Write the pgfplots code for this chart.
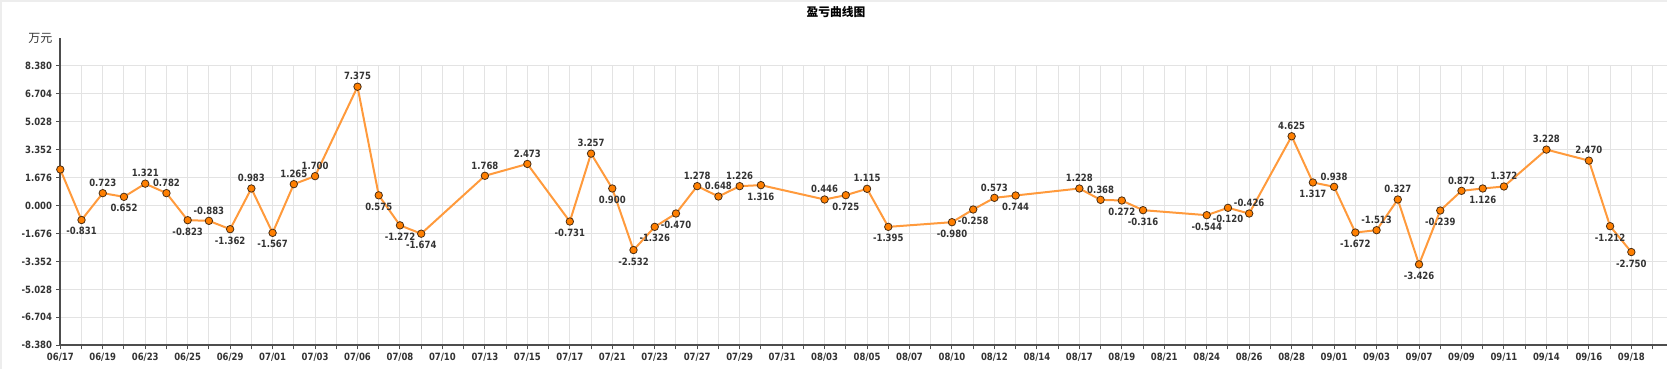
\documentclass[border=0pt]{standalone}
\usepackage{pgfplots}
\pgfplotsset{compat=1.18}
\usepackage{pgfplotstable}
\usepackage{fontspec}
\setmainfont{Noto Sans}
\newfontfamily\numfont{DejaVu Sans}[FakeStretch=0.85]
\newfontfamily\cjk{Noto Sans CJK SC}
\definecolor{lineor}{HTML}{FF9A3C}
\definecolor{markor}{HTML}{FF7F00}
\definecolor{markdr}{HTML}{4A2E14}
\definecolor{gridc}{HTML}{E3E3E3}
\definecolor{axc}{HTML}{4D4D4D}
\definecolor{txt}{HTML}{333333}
\definecolor{edge}{HTML}{EDEDED}

\pgfplotstableread{
x y
0 2.16
1 -0.87
2 0.74
3 0.52
4 1.31
5 0.74
6 -0.88
7 -0.92
8 -1.42
9 1.02
10 -1.64
11 1.28
12 1.76
14 7.12
15 0.61
16 -1.19
17 -1.69
20 1.78
22 2.49
24 -0.96
25 3.11
26 1.02
27 -2.67
28 -1.28
29 -0.48
30 1.16
31 0.54
32 1.16
33 1.22
36 0.36
37 0.62
38 1.00
39 -1.28
42 -1.00
43 -0.24
44 0.46
45 0.60
48 1.02
49 0.34
50 0.30
51 -0.28
54 -0.58
55 -0.14
56 -0.48
58 4.15
59 1.38
60 1.12
61 -1.62
62 -1.48
63 0.36
64 -3.53
65 -0.30
66 0.88
67 1.02
68 1.14
70 3.35
72 2.69
73 -1.24
74 -2.79
}\maindata

\pgfplotstableread{
x y lab
2 0.74 0.723
4 1.31 1.321
5 0.74 0.782
7 -0.92 -0.883
9 1.02 0.983
11 1.28 1.265
12 1.76 1.700
14 7.12 7.375
20 1.78 1.768
22 2.49 2.473
25 3.11 3.257
30 1.16 1.278
31 0.54 0.648
32 1.16 1.226
36 0.36 0.446
38 1.00 1.115
44 0.46 0.573
48 1.02 1.228
49 0.34 0.368
56 -0.48 -0.426
58 4.15 4.625
60 1.12 0.938
62 -1.48 -1.513
63 0.36 0.327
66 0.88 0.872
68 1.14 1.372
70 3.35 3.228
72 2.69 2.470
}\abovedata

\pgfplotstableread{
x y lab
1 -0.87 -0.831
3 0.52 0.652
6 -0.88 -0.823
8 -1.42 -1.362
10 -1.64 -1.567
15 0.61 0.575
16 -1.19 -1.272
17 -1.69 -1.674
24 -0.96 -0.731
26 1.02 0.900
27 -2.67 -2.532
28 -1.28 -1.326
29 -0.48 -0.470
33 1.22 1.316
37 0.62 0.725
39 -1.28 -1.395
42 -1.00 -0.980
43 -0.24 -0.258
45 0.60 0.744
50 0.30 0.272
51 -0.28 -0.316
54 -0.58 -0.544
55 -0.14 -0.120
59 1.38 1.317
61 -1.62 -1.672
64 -3.53 -3.426
65 -0.30 -0.239
67 1.02 1.126
73 -1.24 -1.212
74 -2.79 -2.750
}\belowdata

\begin{document}
\begin{tikzpicture}
\begin{axis}[
  at={(0,0)}, anchor=south west,
  scale only axis,
  width=1205.025pt, height=209.7pt,
  xmin=0, xmax=75.68,
  ymin=-8.38, ymax=8.38,
  enlargelimits=false,
  clip=false,
  axis x line=bottom, axis y line=left,
  axis line style={axc, line width=1.5pt, -},
  xtick={0,2,...,74},
  minor xtick={1,3,...,75},
  xticklabels={06/17,06/19,06/23,06/25,06/29,07/01,07/03,07/06,07/08,07/10,07/13,07/15,07/17,07/21,07/23,07/27,07/29,07/31,08/03,08/05,08/07,08/10,08/12,08/14,08/17,08/19,08/21,08/24,08/26,08/28,09/01,09/03,09/07,09/09,09/11,09/14,09/16,09/18},
  ytick={-8.38,-6.704,-5.028,-3.352,-1.676,0,1.676,3.352,5.028,6.704,8.38},
  yticklabels={-8.380,-6.704,-5.028,-3.352,-1.676,0.000,1.676,3.352,5.028,6.704,8.380},
  tick align=outside,
  major tick length=3pt, minor tick length=3pt,
  tick style={axc, line width=0.75pt},
  minor tick style={axc, line width=0.75pt},
  grid=both,
  major grid style={gridc, line width=0.75pt},
  minor grid style={gridc, line width=0.75pt},
  ticklabel style={font=\numfont\bfseries\fontsize{7.5}{8}\selectfont, text=txt},
  xticklabel style={inner sep=1pt, yshift=-2pt},
  yticklabel style={inner sep=1pt, xshift=-2pt},
]
\addplot[lineor, line width=1.5pt, mark=*, mark size=2.8pt,
  mark options={fill=markor, draw=markdr, line width=0.6pt}]
  table[x=x, y=y] {\maindata};
\addplot[draw=none, nodes near coords, point meta=explicit symbolic,
  nodes near coords style={anchor=center, yshift=7.8pt, inner sep=0pt,
    font=\numfont\bfseries\fontsize{7.5}{8}\selectfont, text=txt}]
  table[x=x, y=y, meta=lab] {\abovedata};
\addplot[draw=none, nodes near coords, point meta=explicit symbolic,
  nodes near coords style={anchor=center, yshift=-8.5pt, inner sep=0pt,
    font=\numfont\bfseries\fontsize{7.5}{8}\selectfont, text=txt}]
  table[x=x, y=y, meta=lab] {\belowdata};
\draw[axc, line width=1.5pt] (axis cs:0,8.38) -- ++(0pt,21pt);
\node[font=\cjk\fontsize{9}{9}\selectfont, text=txt] at ([xshift=-14.9pt, yshift=20.5pt]axis cs:0,8.38) {万元};
\node[font=\cjk\bfseries\fontsize{8.8}{8.8}\selectfont, text=black] at ([yshift=40.3pt]axis cs:36.54,8.38) {盈亏曲线图};
\end{axis}
\draw[edge, line width=3pt] (-45.225pt,-17.775pt) -- (-45.225pt,258.975pt) -- (1205.025pt,258.975pt);
\pgfresetboundingbox
\path[use as bounding box] (-45.225pt,-17.775pt) rectangle (1205.025pt,258.975pt);
\end{tikzpicture}
\end{document}
